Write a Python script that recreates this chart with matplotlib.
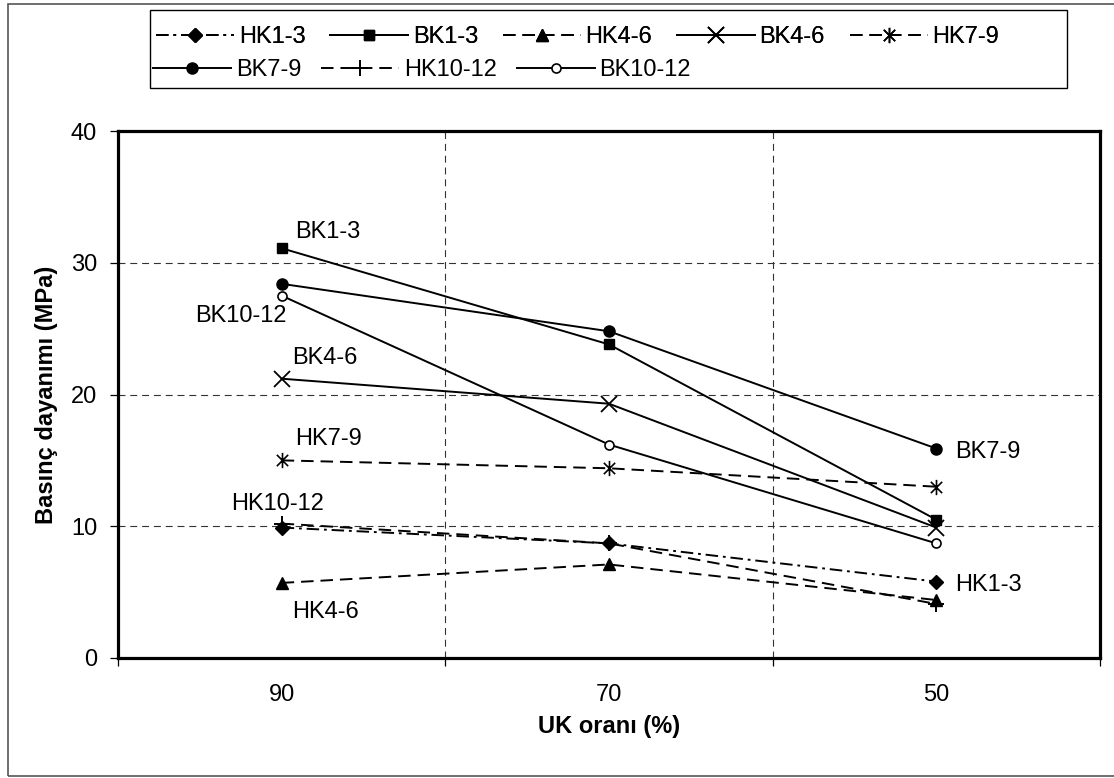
import numpy as np
import matplotlib
matplotlib.use("Agg")
import matplotlib.pyplot as plt
from matplotlib.path import Path
from matplotlib.patches import Rectangle

plt.rcParams['font.family'] = ['Liberation Sans', 'DejaVu Sans']
plt.rcParams['lines.scale_dashes'] = False

# data
categories = ["90", "70", "50"]
hk1_3 = [9.9, 8.7, 5.8]
bk1_3 = [31.1, 23.8, 10.5]
hk4_6 = [5.7, 7.1, 4.4]
bk4_6 = [21.2, 19.3, 9.9]
hk7_9 = [15.0, 14.4, 13.0]
bk7_9 = [28.4, 24.8, 15.9]
hk10_12 = [10.2, 8.7, 4.1]
bk10_12 = [27.5, 16.2, 8.7]

FS = 17
DASH = (0, (9, 5))
DASHDOT = (0, (9, 3.5, 2, 3.5))

# asterisk marker: an x with a vertical bar
star = Path([(-1, -1), (1, 1), (-1, 1), (1, -1), (0, -1.35), (0, 1.35)],
            [Path.MOVETO, Path.LINETO, Path.MOVETO, Path.LINETO, Path.MOVETO, Path.LINETO])

W, H = 1114, 778
fig = plt.figure(figsize=(W / 100, H / 100), dpi=100)
ax = fig.add_axes([118 / W, 1 - 658 / H, 982 / W, 527 / H])

x = np.arange(len(categories))
lw = 1.4
series = [
    ("HK1-3", hk1_3, dict(ls=DASHDOT, marker='D', ms=7, mfc='black')),
    ("BK1-3", bk1_3, dict(ls='-', marker='s', ms=7.5, mfc='black')),
    ("HK4-6", hk4_6, dict(ls=DASH, marker='^', ms=9, mfc='black')),
    ("BK4-6", bk4_6, dict(ls='-', marker='x', ms=12, mew=1.3)),
    ("HK7-9", hk7_9, dict(ls=DASH, marker=star, ms=11, mew=1.2)),
    ("BK7-9", bk7_9, dict(ls='-', marker='o', ms=8, mfc='black')),
    ("HK10-12", hk10_12, dict(ls=DASH, marker='+', ms=12, mew=1.4)),
    ("BK10-12", bk10_12, dict(ls='-', marker='o', ms=6.5, mfc='white', mew=1.2)),
]
handles = {}
for name, vals, st in series:
    h, = ax.plot(x, vals, color='black', lw=lw, mec='black', label=name, clip_on=False, zorder=3, **st)
    handles[name] = h

# point labels
labels = [
    ("BK1-3", bk1_3, 0, (13, 10), 'left'),
    ("BK10-12", bk10_12, 0, (5, -26), 'right'),
    ("BK4-6", bk4_6, 0, (10, 15), 'left'),
    ("HK7-9", hk7_9, 0, (13, 15), 'left'),
    ("HK10-12", hk10_12, 0, (-51, 14), 'left'),
    ("HK4-6", hk4_6, 0, (10, -35), 'left'),
    ("BK7-9", bk7_9, 2, (19, -9), 'left'),
    ("HK1-3", hk1_3, 2, (19, -9), 'left'),
]
for text, vals, i, off, ha in labels:
    ax.annotate(text, (x[i], vals[i]), xytext=off, textcoords='offset pixels',
                ha=ha, va='baseline', fontsize=FS, annotation_clip=False)

ax.set_xlim(-0.5, 2.5)
ax.set_ylim(0, 40)
ax.set_yticks([0, 10, 20, 30, 40])
ax.set_xticks([-0.5, 0.5, 1.5, 2.5])
ax.set_xticklabels([])
ax.set_xticks(x, minor=True)
ax.set_xticklabels(categories, minor=True)
ax.tick_params(axis='x', which='minor', length=0, pad=19, labelsize=FS)
ax.tick_params(axis='both', which='major', direction='out', length=6, width=0.9, labelsize=FS)
ax.tick_params(axis='y', pad=9)

ax.grid(True, which='major', color='#333333', lw=0.8, ls=(0, (5, 3.5)))
ax.set_axisbelow(True)
for s in ax.spines.values():
    s.set_linewidth(2.3)

ax.set_xlabel("UK oranı (%)", fontsize=FS, fontweight='bold', labelpad=6)
ax.set_ylabel("Basınç dayanımı (MPa)", fontsize=FS, fontweight='bold', labelpad=9)

# legend: two rows, drawn as two frameless legends inside one box
row1 = ["HK1-3", "BK1-3", "HK4-6", "BK4-6", "HK7-9"]
row2 = ["BK7-9", "HK10-12", "BK10-12"]
common = dict(fontsize=FS, frameon=False, handlelength=3.3, handletextpad=0.2,
              borderpad=0, borderaxespad=0, loc='upper left')
leg1 = fig.legend([handles[n] for n in row1], row1, ncol=5, columnspacing=1.05,
                  bbox_to_anchor=(156 / W, 1 - 26 / H), **common)
fig.add_artist(leg1)
leg2 = fig.legend([handles[n] for n in row2], row2, ncol=3, columnspacing=0.85,
                  bbox_to_anchor=(153 / W, 1 - 59 / H), **common)

fig.patches.append(Rectangle((150 / W, 1 - 88 / H), 917 / W, 78 / H, transform=fig.transFigure,
                             fill=False, edgecolor='black', lw=1.0))
fig.patches.append(Rectangle((8 / W, 2 / H), 1.2, 1 - 6 / H, transform=fig.transFigure,
                             fill=False, edgecolor='#555555', lw=1.2))

fig.savefig("out.png", dpi=100)
